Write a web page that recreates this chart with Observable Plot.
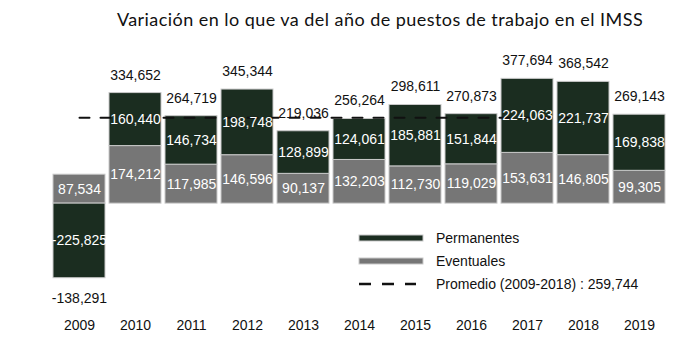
<!DOCTYPE html>
<html>
<head>
<meta charset="utf-8">
<script src="https://cdn.jsdelivr.net/npm/d3@7"></script>
<script src="https://cdn.jsdelivr.net/npm/@observablehq/plot@0.6"></script>
<style>
  html, body { margin: 0; padding: 0; background: #fff; }
  #wrap { position: relative; width: 700px; height: 358px; overflow: hidden; font-family: "Liberation Sans", Arial, sans-serif; }
  #title { height: 32px; padding-top: 8px; line-height: 22px; font-family: Lato, "Open Sans", sans-serif; font-size: 18px; letter-spacing: 0.45px; color: #111; text-align: center; padding-left: 60px; box-sizing: border-box; white-space: nowrap; overflow: visible; }
  #legend { position: absolute; left: 358px; top: 226px; font-size: 14px; color: #111; }
  .row { display: flex; align-items: center; height: 23px; }
  .sw { width: 66px; margin-right: 12px; }
</style>
</head>
<body>
<div id="wrap">
  <div id="title">Variación en lo que va del año de puestos de trabajo en el IMSS</div>
  <div id="chart"></div>
  <div id="legend"></div>
</div>
<script>
const years = ["2009","2010","2011","2012","2013","2014","2015","2016","2017","2018","2019"];
const eventuales = [87534, 174212, 117985, 146596, 90137, 132203, 112730, 119029, 153631, 146805, 99305];
const permanentes = [-225825, 160440, 146734, 198748, 128899, 124061, 185881, 151844, 224063, 221737, 169838];
const totales = [-138291, 334652, 264719, 345344, 219036, 256264, 298611, 270873, 377694, 368542, 269143];
const promedio = 259744;
const promedioYears = ["2009","2010","2011","2012","2013","2014","2015","2016","2017","2018"];
const seriesNames = ["Permanentes", "Eventuales"];
const promedioLabel = "Promedio (2009-2018) : 259,744";

const colors = {Permanentes: "#1b2d20", Eventuales: "#767676"};
const fmt = v => d3.format(",")(v).replace("\u2212", "-");

const segs = [];
years.forEach((yr, i) => {
  const ev = eventuales[i], pe = permanentes[i];
  segs.push({year: yr, serie: "Eventuales", value: ev, y1: 0, y2: ev});
  if (pe >= 0) segs.push({year: yr, serie: "Permanentes", value: pe, y1: ev, y2: ev + pe});
  else segs.push({year: yr, serie: "Permanentes", value: pe, y1: 0, y2: pe});
});
// total label sits beyond the bar end: top of positives or bottom of negatives
const totalRows = years.map((yr, i) => {
  const vals = [eventuales[i], permanentes[i]];
  const pos = d3.sum(vals.filter(v => v > 0));
  const neg = d3.sum(vals.filter(v => v < 0));
  return {year: yr, total: totales[i], end: totales[i] >= 0 ? pos : neg};
});
const avgRows = promedioYears.map(yr => ({year: yr, value: promedio}));

const chart = Plot.plot({
  width: 700,
  height: 326,
  marginLeft: 45,
  marginRight: 27,
  marginTop: 39,
  marginBottom: 69,
  style: {fontFamily: "'Liberation Sans', Arial, sans-serif", fontSize: "14px", background: "#fff"},
  x: {domain: years, paddingInner: 0.07, paddingOuter: 0.0825, label: null},
  y: {domain: [-260000, 400000], axis: null},
  color: {domain: seriesNames, range: [colors.Permanentes, colors.Eventuales]},
  marks: [
    Plot.rectY(segs, {x: "year", y1: "y1", y2: "y2", fill: "serie", stroke: "#c9c9c9", strokeWidth: 1}),
    Plot.lineY(avgRows, {x: "year", y: "value", stroke: "#111", strokeWidth: 2, strokeDasharray: "10,11"}),
    Plot.text(segs, {x: "year", y: d => (d.y1 + d.y2) / 2, text: d => fmt(d.value), fill: "#fff", fontSize: 14}),
    Plot.text(totalRows.filter(d => d.total >= 0), {x: "year", y: "end", text: d => fmt(d.total), fill: "#111", fontSize: 14, dy: -18}),
    Plot.text(totalRows.filter(d => d.total < 0), {x: "year", y: "end", text: d => fmt(d.total), fill: "#111", fontSize: 14, dy: 20}),
    Plot.axisX({tickSize: 0, tickPadding: 31, fontSize: 14, color: "#111", label: null})
  ]
});
document.getElementById("chart").appendChild(chart);

const legend = document.getElementById("legend");
const items = [
  {label: seriesNames[0], kind: "bar", color: colors.Permanentes},
  {label: seriesNames[1], kind: "bar", color: colors.Eventuales},
  {label: promedioLabel, kind: "dash", color: "#111"}
];
items.forEach(it => {
  const row = document.createElement("div");
  row.className = "row";
  const sw = document.createElementNS("http://www.w3.org/2000/svg", "svg");
  sw.setAttribute("class", "sw");
  sw.setAttribute("width", 66); sw.setAttribute("height", 10);
  if (it.kind === "bar") {
    sw.innerHTML = `<rect x="1" y="2" width="64" height="6" fill="${it.color}" stroke="#c9c9c9" stroke-width="1"/>`;
  } else {
    sw.innerHTML = `<line x1="1" x2="58" y1="5" y2="5" stroke="${it.color}" stroke-width="2.5" stroke-dasharray="12,11"/>`;
  }
  row.appendChild(sw);
  const t = document.createElement("span");
  t.textContent = it.label;
  row.appendChild(t);
  legend.appendChild(row);
});
</script>
</body>
</html>
